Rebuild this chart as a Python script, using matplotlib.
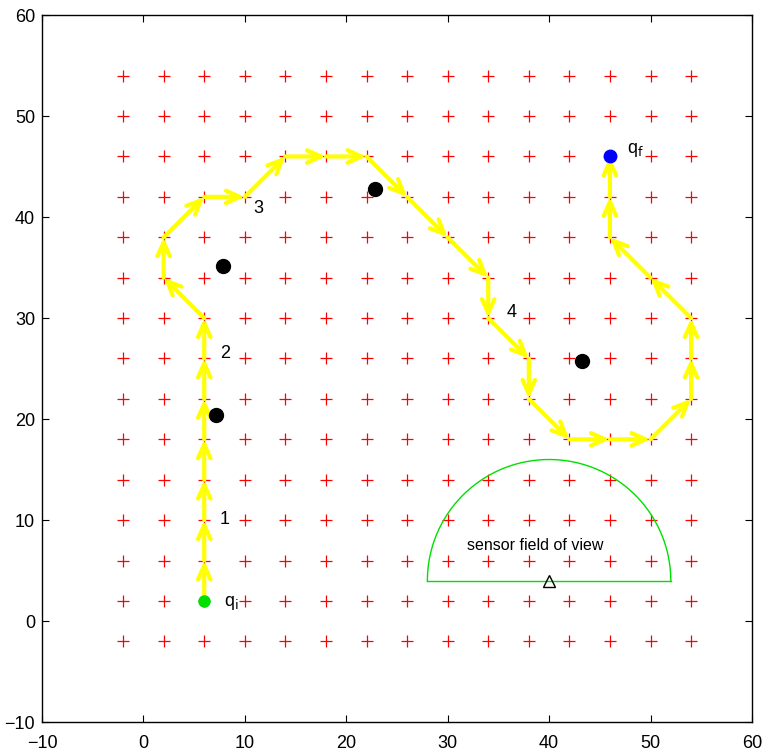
import numpy as np
import matplotlib
matplotlib.use("Agg")
import matplotlib.pyplot as plt

plt.rcParams['font.family'] = ['Liberation Sans', 'DejaVu Sans']

# grid of candidate positions
grid_x = np.arange(-2, 55, 4)
grid_y = np.arange(-2, 55, 4)

# planned path (waypoints)
path_x = [6, 6, 6, 6, 6, 6, 6, 6, 2, 2, 6, 10, 14, 18, 22, 26, 30, 34, 34, 38, 38,
          42, 46, 50, 54, 54, 54, 50, 46, 46, 46]
path_y = [2, 6, 10, 14, 18, 22, 26, 30, 34, 38, 42, 42, 46, 46, 46, 42, 38, 34, 30, 26, 22,
          18, 18, 18, 22, 26, 30, 34, 38, 42, 46]

# obstacles / targets
obs_x = [7.8, 7.2, 22.8, 43.2]
obs_y = [35.2, 20.4, 42.8, 25.8]

start = (6, 2)
goal = (46, 46)

# numbered labels
lab_text = ['1', '2', '3', '4']
lab_x = [7.5, 7.6, 10.8, 35.8]
lab_y = [10.1, 26.5, 40.8, 30.6]

# sensor field of view
sensor_pos = (40, 4)
sensor_range = 12

fig = plt.figure(figsize=(7.63, 7.53), dpi=100)
ax = fig.add_axes([0.055, 0.041, 0.9305, 0.939])

gx, gy = np.meshgrid(grid_x, grid_y)
ax.plot(gx.ravel(), gy.ravel(), '+', color='red', markersize=8, markeredgewidth=0.9)

for i in range(len(path_x) - 1):
    ax.annotate('', xy=(path_x[i + 1], path_y[i + 1]), xytext=(path_x[i], path_y[i]),
                arrowprops=dict(arrowstyle='->,head_length=1.0,head_width=0.45',
                                color='yellow', lw=3, shrinkA=0, shrinkB=0),
                zorder=3)

ax.plot(obs_x, obs_y, 'o', color='black', markersize=10, zorder=4)
ax.plot(*start, 'o', color='#00e000', markersize=8, zorder=4)
ax.plot(*goal, 'o', color='blue', markersize=9, zorder=4)

for t, x, y in zip(lab_text, lab_x, lab_y):
    ax.text(x, y, t, fontsize=13, va='center', ha='left')
ax.text(start[0] + 1.9, start[1] - 0.2, r'q$_{\rm i}$', fontsize=13, va='center')
ax.text(goal[0] + 1.7, goal[1] + 0.6, r'q$_{\rm f}$', fontsize=13, va='center')

th = np.linspace(0, np.pi, 200)
ax.plot(sensor_pos[0] + sensor_range * np.cos(th), sensor_pos[1] + sensor_range * np.sin(th),
        color='#00e000', lw=1)
ax.plot([sensor_pos[0] - sensor_range, sensor_pos[0] + sensor_range],
        [sensor_pos[1], sensor_pos[1]], color='#00e000', lw=1)
ax.plot(*sensor_pos, '^', markerfacecolor='none', markeredgecolor='black', markersize=8)
ax.text(sensor_pos[0] - 1.4, sensor_pos[1] + 3.5, 'sensor field of view', fontsize=11.5,
        ha='center', va='center')

ax.set_xlim(-10, 60)
ax.set_ylim(-10, 60)
ax.set_xticks(np.arange(-10, 61, 10))
ax.set_yticks(np.arange(-10, 61, 10))
ax.tick_params(direction='in', top=True, right=True, labelsize=13, length=5)
ax.tick_params(axis='x', pad=9)
ax.tick_params(axis='y', pad=5)
for s in ax.spines.values():
    s.set_linewidth(1.0)

fig.savefig('out.png', dpi=100)
